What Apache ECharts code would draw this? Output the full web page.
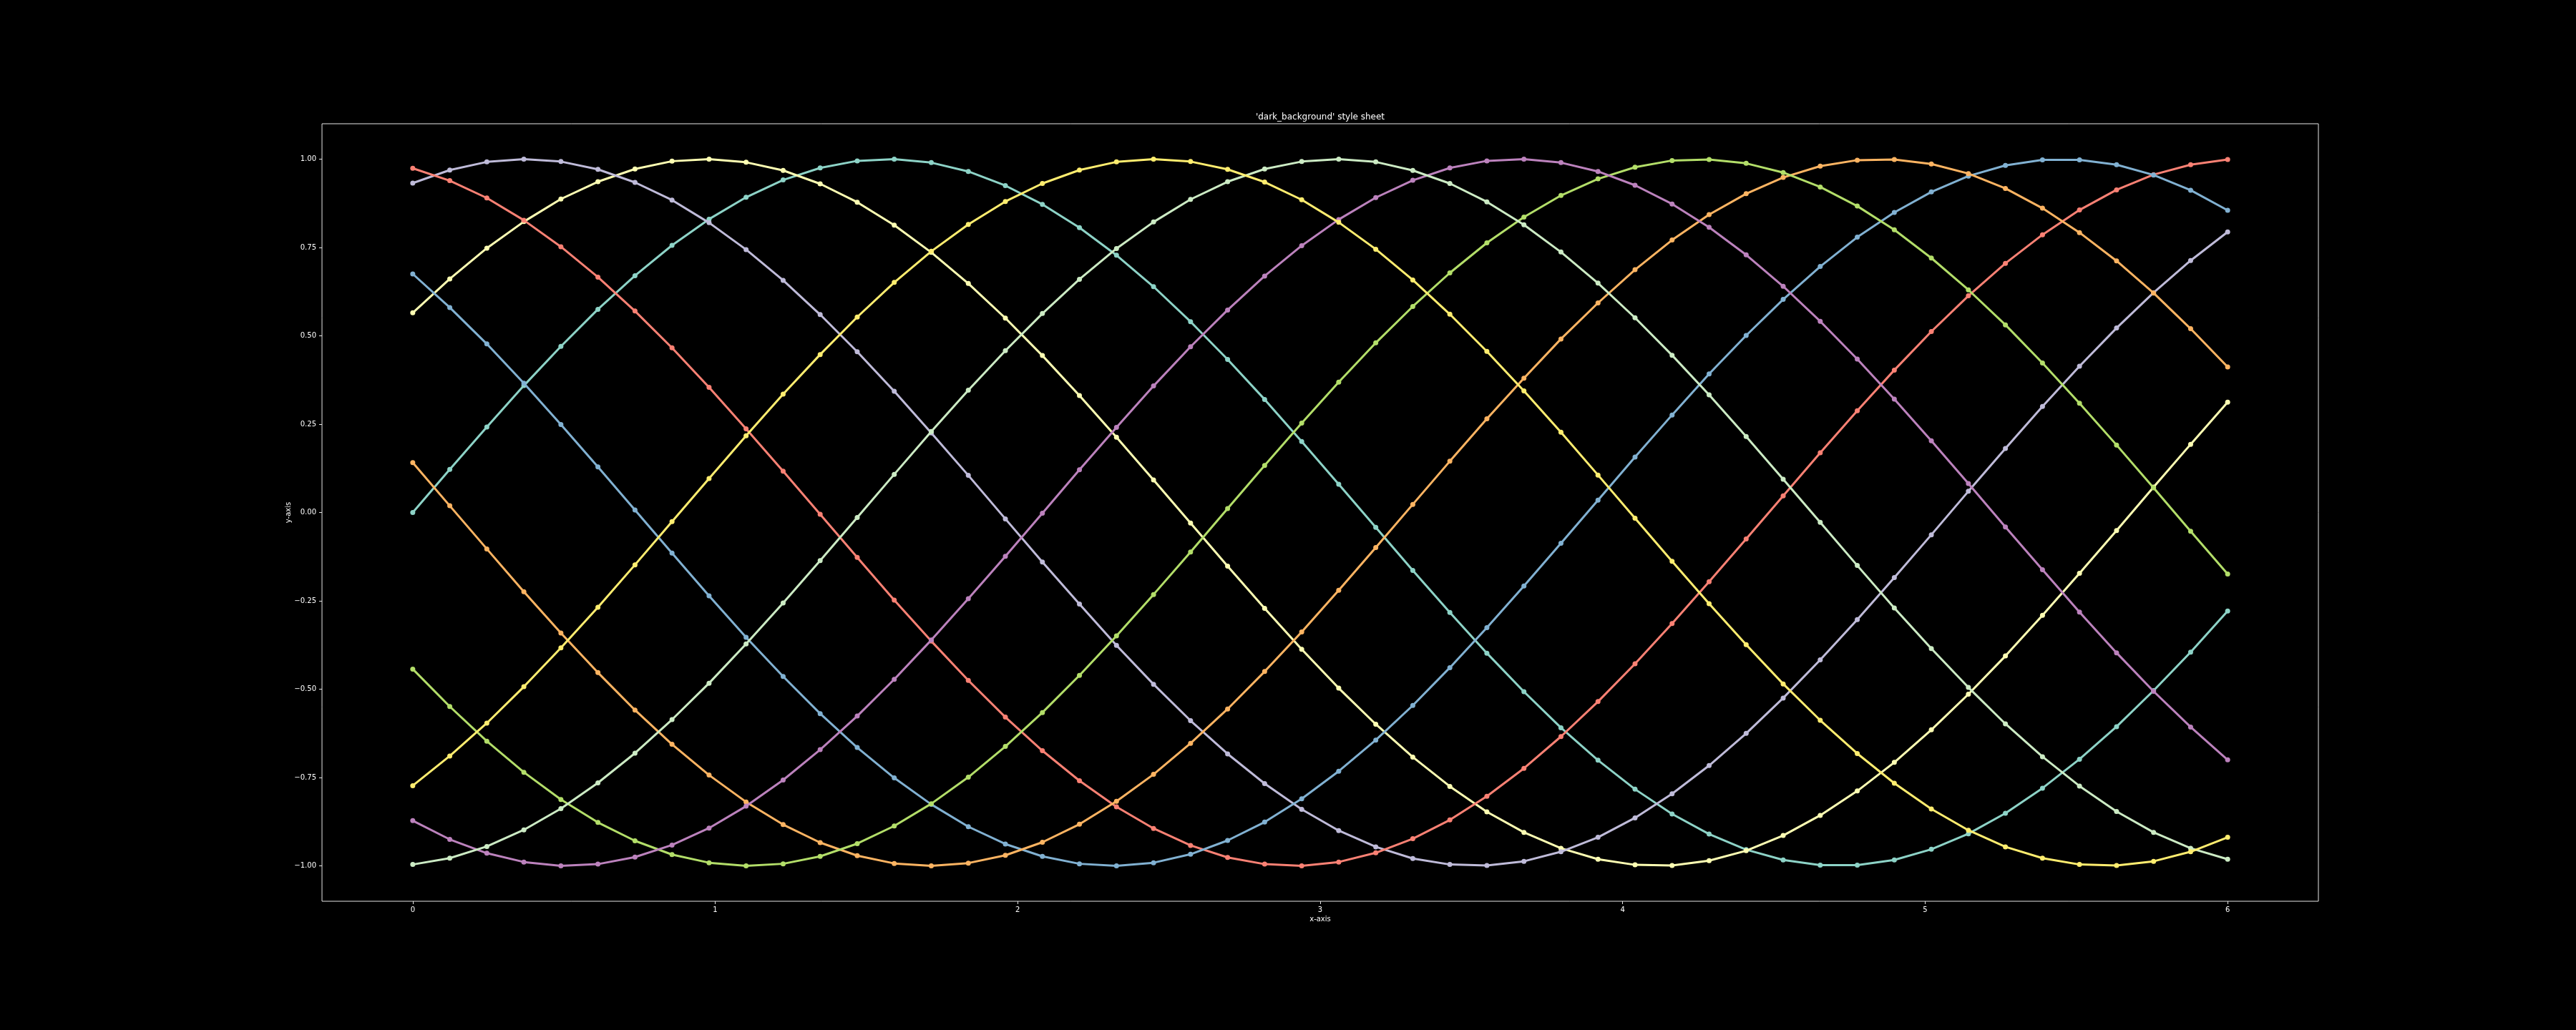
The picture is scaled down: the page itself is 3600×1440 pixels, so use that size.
<!DOCTYPE html>
<html><head><meta charset="utf-8">
<script src="https://cdn.jsdelivr.net/npm/echarts@6/dist/echarts.min.js"></script>
<style>html,body{margin:0;padding:0;background:#000;}#chart{width:3600px;height:1440px;}</style>
</head><body><div id="chart"></div>
<script>
const xValues = [0, 0.1224, 0.2449, 0.3673, 0.4898, 0.6122, 0.7347, 0.8571, 0.9796, 1.1020,
  1.2245, 1.3469, 1.4694, 1.5918, 1.7143, 1.8367, 1.9592, 2.0816, 2.2041, 2.3265,
  2.4490, 2.5714, 2.6939, 2.8163, 2.9388, 3.0612, 3.1837, 3.3061, 3.4286, 3.5510,
  3.6735, 3.7959, 3.9184, 4.0408, 4.1633, 4.2857, 4.4082, 4.5306, 4.6531, 4.7755,
  4.8980, 5.0204, 5.1429, 5.2653, 5.3878, 5.5102, 5.6327, 5.7551, 5.8776, 6.0];

const series0 = [0, 0.122, 0.242, 0.359, 0.470, 0.575, 0.670, 0.756, 0.830, 0.892,
  0.941, 0.975, 0.995, 1.000, 0.990, 0.965, 0.925, 0.872, 0.806, 0.728,
  0.639, 0.540, 0.433, 0.320, 0.201, 0.080, -0.042, -0.164, -0.283, -0.398,
  -0.507, -0.609, -0.701, -0.783, -0.853, -0.910, -0.954, -0.983, -0.998, -0.998,
  -0.983, -0.953, -0.909, -0.851, -0.780, -0.698, -0.606, -0.504, -0.395, -0.279];
const series1 = [0.565, 0.661, 0.748, 0.823, 0.887, 0.936, 0.972, 0.994, 1.000, 0.991,
  0.968, 0.930, 0.878, 0.813, 0.736, 0.648, 0.550, 0.444, 0.331, 0.213,
  0.092, -0.030, -0.152, -0.271, -0.387, -0.497, -0.599, -0.692, -0.775, -0.847,
  -0.905, -0.950, -0.981, -0.997, -0.999, -0.985, -0.957, -0.914, -0.857, -0.788,
  -0.707, -0.615, -0.514, -0.406, -0.291, -0.172, -0.051, 0.072, 0.193, 0.312];
const series2 = [0.932, 0.969, 0.992, 1.000, 0.993, 0.971, 0.934, 0.884, 0.820, 0.744,
  0.657, 0.560, 0.455, 0.343, 0.225, 0.105, -0.018, -0.140, -0.259, -0.376,
  -0.486, -0.589, -0.683, -0.767, -0.840, -0.900, -0.946, -0.979, -0.996, -0.999,
  -0.987, -0.960, -0.919, -0.864, -0.796, -0.716, -0.625, -0.525, -0.417, -0.303,
  -0.184, -0.063, 0.060, 0.181, 0.300, 0.414, 0.522, 0.622, 0.713, 0.794];
const series3 = [0.974, 0.939, 0.890, 0.827, 0.752, 0.666, 0.570, 0.466, 0.354, 0.237,
  0.117, -0.005, -0.127, -0.248, -0.364, -0.475, -0.579, -0.674, -0.759, -0.833,
  -0.894, -0.942, -0.976, -0.995, -1.000, -0.989, -0.963, -0.923, -0.870, -0.803,
  -0.724, -0.634, -0.535, -0.428, -0.314, -0.196, -0.075, 0.047, 0.169, 0.288,
  0.403, 0.512, 0.613, 0.705, 0.786, 0.856, 0.913, 0.956, 0.984, 0.999];
const series4 = [0.675, 0.580, 0.477, 0.366, 0.249, 0.129, 0.007, -0.115, -0.236, -0.353,
  -0.464, -0.569, -0.665, -0.751, -0.826, -0.889, -0.938, -0.973, -0.994, -1.000,
  -0.991, -0.967, -0.928, -0.876, -0.810, -0.732, -0.644, -0.546, -0.439, -0.326,
  -0.208, -0.087, 0.035, 0.157, 0.276, 0.392, 0.501, 0.603, 0.696, 0.779,
  0.849, 0.907, 0.952, 0.982, 0.998, 0.998, 0.984, 0.955, 0.912, 0.855];
const series5 = [0.141, 0.019, -0.103, -0.224, -0.341, -0.453, -0.559, -0.656, -0.743, -0.819,
  -0.883, -0.934, -0.971, -0.993, -1.000, -0.992, -0.970, -0.933, -0.882, -0.817,
  -0.741, -0.653, -0.556, -0.450, -0.338, -0.220, -0.099, 0.023, 0.145, 0.265,
  0.380, 0.491, 0.593, 0.687, 0.771, 0.843, 0.902, 0.948, 0.980, 0.997,
  0.999, 0.986, 0.959, 0.917, 0.861, 0.792, 0.712, 0.621, 0.520, 0.412];
const series6 = [-0.443, -0.549, -0.647, -0.735, -0.812, -0.877, -0.929, -0.968, -0.991, -1.000,
  -0.994, -0.973, -0.937, -0.887, -0.824, -0.749, -0.662, -0.566, -0.461, -0.349,
  -0.232, -0.112, 0.011, 0.133, 0.253, 0.369, 0.480, 0.583, 0.678, 0.763,
  0.836, 0.897, 0.944, 0.977, 0.996, 0.999, 0.988, 0.962, 0.921, 0.867,
  0.800, 0.720, 0.630, 0.531, 0.423, 0.309, 0.191, 0.070, -0.053, -0.174];
const series7 = [-0.872, -0.925, -0.964, -0.989, -1.000, -0.995, -0.975, -0.941, -0.893, -0.831,
  -0.757, -0.671, -0.576, -0.472, -0.361, -0.244, -0.124, -0.002, 0.121, 0.241,
  0.358, 0.469, 0.573, 0.669, 0.755, 0.829, 0.891, 0.940, 0.975, 0.995,
  1.000, 0.990, 0.965, 0.926, 0.873, 0.807, 0.729, 0.640, 0.541, 0.434,
  0.321, 0.203, 0.082, -0.041, -0.162, -0.282, -0.397, -0.506, -0.607, -0.700];
const series8 = [-0.996, -0.978, -0.945, -0.898, -0.838, -0.765, -0.681, -0.586, -0.483, -0.372,
  -0.256, -0.136, -0.014, 0.108, 0.229, 0.346, 0.458, 0.563, 0.660, 0.747,
  0.822, 0.886, 0.936, 0.972, 0.993, 1.000, 0.992, 0.968, 0.931, 0.879,
  0.814, 0.737, 0.649, 0.551, 0.445, 0.333, 0.215, 0.094, -0.028, -0.150,
  -0.270, -0.385, -0.495, -0.598, -0.691, -0.774, -0.846, -0.905, -0.950, -0.981];
const series9 = [-0.773, -0.689, -0.596, -0.493, -0.383, -0.268, -0.148, -0.026, 0.096, 0.217,
  0.335, 0.447, 0.553, 0.651, 0.739, 0.815, 0.880, 0.931, 0.969, 0.992,
  1.000, 0.993, 0.971, 0.935, 0.885, 0.821, 0.745, 0.658, 0.561, 0.456,
  0.344, 0.227, 0.106, -0.016, -0.138, -0.258, -0.374, -0.485, -0.588, -0.682,
  -0.766, -0.839, -0.899, -0.946, -0.978, -0.996, -0.999, -0.987, -0.960, -0.919];

const xTicks = [0, 1, 2, 3, 4, 5, 6];
const yTicks = [-1, -0.75, -0.5, -0.25, 0, 0.25, 0.5, 0.75, 1];
const titleText = "'dark_background' style sheet";
const xLabelText = 'x-axis';
const yLabelText = 'y-axis';

const allSeries = [series0, series1, series2, series3, series4, series5, series6, series7, series8, series9];
const colors = ['#8dd3c7', '#feffb3', '#bfbbd9', '#fa8174', '#81b1d2', '#fdb462', '#b3de69', '#bc82bd', '#ccebc4', '#ffed6f'];

const FONT = '"DejaVu Sans", sans-serif';
const chart = echarts.init(document.getElementById('chart'), null, {renderer: 'canvas', width: 3600, height: 1440});

const option = {
  backgroundColor: '#000000',
  animation: false,
  grid: {
    left: 450, top: 173, width: 2790, height: 1087,
    show: true, borderColor: '#e6e6e6', borderWidth: 1, backgroundColor: 'transparent',
    containLabel: false, outerBoundsMode: 'none'
  },
  xAxis: {
    type: 'value', min: -0.3, max: 6.3,
    splitLine: {show: false},
    axisLine: {show: false, onZero: false},
    axisTick: {show: true, customValues: xTicks, length: 4, lineStyle: {color: '#e6e6e6', width: 1}},
    axisLabel: {customValues: xTicks, color: '#ffffff', fontSize: 10, fontFamily: FONT, margin: 7}
  },
  yAxis: {
    type: 'value', min: -1.1, max: 1.1,
    splitLine: {show: false},
    axisLine: {show: false, onZero: false},
    axisTick: {show: true, customValues: yTicks, length: 4, lineStyle: {color: '#e6e6e6', width: 1}},
    axisLabel: {
      customValues: yTicks, color: '#ffffff', fontSize: 10, fontFamily: FONT, margin: 8,
      formatter: v => v.toFixed(2).replace('-', '\u2212')
    }
  },
  series: allSeries.map((vals, k) => ({
    type: 'line',
    data: xValues.map((x, i) => [x, vals[i]]),
    symbol: 'circle',
    symbolSize: 7,
    showSymbol: true,
    showAllSymbol: true,
    clip: false,
    lineStyle: {width: 3, color: colors[k]},
    itemStyle: {color: colors[k], borderWidth: 0},
    emphasis: {disabled: true},
    z: 2 + k * 0.01
  })),
  graphic: [
    {type: 'text', x: 1845, y: 170, style: {text: titleText, fill: '#ffffff', fontSize: 12, fontFamily: FONT, align: 'center', verticalAlign: 'bottom'}},
    {type: 'text', x: 1845, y: 1280, style: {text: xLabelText, fill: '#ffffff', fontSize: 10, fontFamily: FONT, align: 'center', verticalAlign: 'top'}},
    {type: 'text', x: 403, y: 716.5, rotation: Math.PI / 2, style: {text: yLabelText, fill: '#ffffff', fontSize: 10, fontFamily: FONT, align: 'center', verticalAlign: 'middle'}}
  ]
};
chart.setOption(option);
</script>
</body></html>
